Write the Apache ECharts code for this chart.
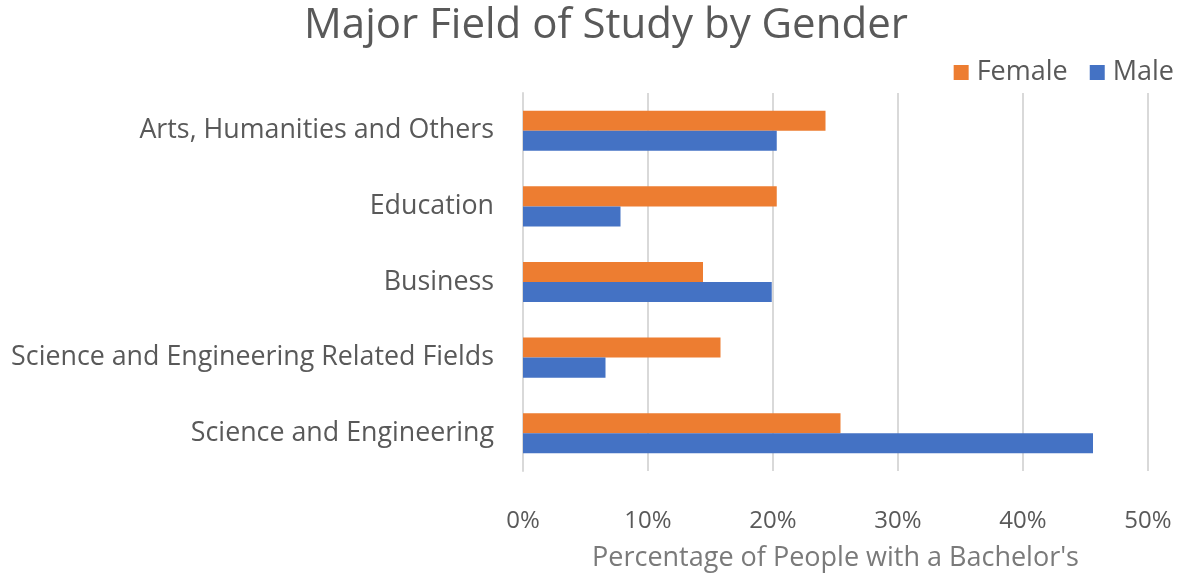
<!DOCTYPE html>
<html>
<head>
<meta charset="utf-8">
<script src="https://cdn.jsdelivr.net/npm/echarts@6/dist/echarts.min.js"></script>
<style>html,body{margin:0;padding:0;background:#fff;}#c{width:1192px;height:575px;}</style>
</head>
<body>
<div id="c"></div>
<script>
const categories = ["Arts, Humanities and Others", "Education", "Business", "Science and Engineering Related Fields", "Science and Engineering"];
const femaleValues = [24.2, 20.3, 14.4, 15.8, 25.4];
const maleValues = [20.3, 7.8, 19.9, 6.6, 45.6];
const xTicks = [0, 10, 20, 30, 40, 50];

const chart = echarts.init(document.getElementById('c'), null, {renderer: 'canvas'});
const font = '"Open Sans", "Noto Sans", sans-serif';
chart.setOption({
  animation: false,
  title: {
    text: 'Major Field of Study by Gender',
    left: 601, top: 0, textAlign: 'center',
    textStyle: {fontFamily: font, fontSize: 42, fontWeight: 'normal', color: '#595959'}
  },
  legend: {
    right: 13, top: 54,
    itemWidth: 15, itemHeight: 15, itemGap: 22,
    icon: 'rect',
    textStyle: {fontFamily: font, fontSize: 27, color: '#595959', padding: [0, 0, 0, 3]},
    data: ['Female', 'Male']
  },
  grid: {left: 523, right: 44, top: 93, bottom: 104, containLabel: false, outerBoundsMode: 'none'},
  xAxis: {
    type: 'value', min: xTicks[0], max: xTicks[xTicks.length - 1], interval: 10,
    name: "Percentage of People with a Bachelor's",
    nameLocation: 'middle', nameGap: 74,
    nameTextStyle: {fontFamily: font, fontSize: 27, color: '#7a7a7a'},
    axisLabel: {formatter: '{value}%', fontFamily: font, fontSize: 24, color: '#595959', margin: 38},
    axisLine: {show: false}, axisTick: {show: false},
    splitLine: {show: true, lineStyle: {color: '#d9d9d9', width: 2}}
  },
  yAxis: {
    type: 'category', data: categories, inverse: true,
    axisLine: {show: true, lineStyle: {color: '#d9d9d9', width: 2}},
    axisTick: {show: false},
    axisLabel: {fontFamily: font, fontSize: 26.8, color: '#595959', margin: 29}
  },
  series: [
    {name: 'Female', type: 'bar', data: femaleValues, itemStyle: {color: '#ED7D31'}, barGap: '0%', barCategoryGap: '47%'},
    {name: 'Male', type: 'bar', data: maleValues, itemStyle: {color: '#4472C4'}, barGap: '0%', barCategoryGap: '47%'}
  ]
});
</script>
</body>
</html>
